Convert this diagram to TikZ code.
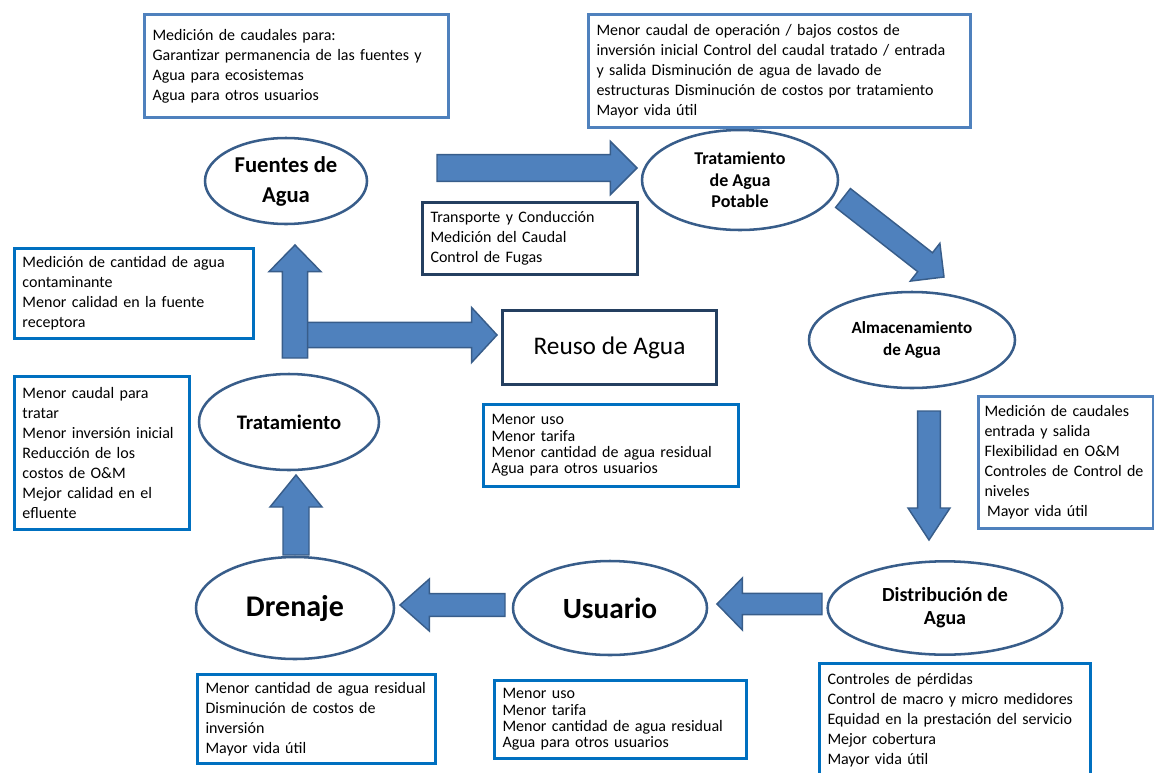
\documentclass[tikz,border=0pt]{standalone}
\usepackage{fontspec}
\setmainfont{Carlito}
\usepackage{tikz}
\usetikzlibrary{shapes,arrows,positioning,calc}

\definecolor{arrowfill}{HTML}{4F81BD}
\definecolor{arrowline}{HTML}{385D8A}
\definecolor{ellline}{HTML}{385D8A}
\definecolor{boxlight}{HTML}{4F81BD}
\definecolor{boxblue}{HTML}{0070C0}
\definecolor{boxdark}{HTML}{243F60}

\tikzset{
  stage/.style={ellipse, draw=ellline, line width=1.9pt, fill=white, inner sep=0pt, align=center},
  infobox/.style={draw=#1, line width=2.25pt, fill=white, anchor=north west, align=left,
    inner xsep=6pt, inner ysep=2pt, font=\fontsize{12}{15}\selectfont},
  bigarrow/.style={fill=arrowfill, draw=arrowline, line width=1.1pt, line join=miter}
}

% block arrow: tail, tip, half shaft, half head, head length
\newcommand\blockarrow[5]{%
  \draw[bigarrow] let \p1=($(#2)-(#1)$), \n1={atan2(\y1,\x1)}, \n2={veclen(\x1,\y1)-#5},
    \n3={\n1+90}, \n4={\n1-90}, \n5={#4-#3} in
    ($(#1)+(\n3:#3)$) -- ++(\n1:\n2) -- ++(\n3:\n5) -- (#2)
    -- ($(#1)+(\n1:\n2)+(\n4:#4)$) -- ++(\n3:\n5) -- ($(#1)+(\n4:#3)$) -- cycle;}

\begin{document}
\begin{tikzpicture}[x=0.75pt, y=-0.75pt]
\useasboundingbox (0,0) rectangle (1154,772);

% Etapas del ciclo
\node[stage, minimum width=121.5pt, minimum height=64.5pt, font=\bfseries\fontsize{17}{22.5}\selectfont] (fuentes) at (286,181) {Fuentes de\\Agua};
\node[stage, minimum width=147pt, minimum height=75pt, font=\bfseries\fontsize{13.5}{16}\selectfont] (potable) at (740,180) {Tratamiento\\de Agua\\Potable};
\node[stage, minimum width=154.5pt, minimum height=72pt, font=\bfseries\fontsize{12.8}{17}\selectfont] (almacen) at (912,340) {Almacenamiento\\de Agua};
\node[stage, minimum width=176pt, minimum height=70pt, font=\bfseries\fontsize{15}{17}\selectfont] (distrib) at (945,608) {Distribución de\\Agua};
\node[stage, minimum width=145.5pt, minimum height=70.5pt, font=\bfseries\fontsize{22}{24}\selectfont] (usuario) at (610,608) {Usuario};
\node[stage, minimum width=148.5pt, minimum height=76.5pt, font=\bfseries\fontsize{22.5}{24}\selectfont] (drenaje) at (295,608) {Drenaje};
\node[stage, minimum width=135pt, minimum height=72pt, font=\bfseries\fontsize{15.5}{18}\selectfont] (tratam) at (289,422) {Tratamiento};
\node[draw=boxdark, line width=2.25pt, minimum width=161pt, minimum height=55pt, font=\fontsize{19}{22}\selectfont] (reuso) at (609.5,347.5) {Reuso de Agua};

% Cuadros de texto
\node[infobox=boxlight, text width=216pt, minimum height=77pt] (medfuentes) at (143,13)
  {Medición de caudales para:\\ Garantizar permanencia de las fuentes y\\ Agua para ecosistemas\\ Agua para otros usuarios};
\node[infobox=boxlight, text width=274.5pt, minimum height=85pt] (medpotable) at (587,13)
  {Menor caudal de operación / bajos costos de\\ inversión inicial Control del caudal tratado / entrada\\ y salida Disminución de agua de lavado de\\ estructuras Disminución de costos por tratamiento\\ Mayor vida útil};
\node[infobox=boxdark, text width=149pt, minimum height=54pt] (medtransp) at (421,201)
  {Transporte y Conducción\\ Medición del Caudal\\ Control de Fugas};
\node[infobox=boxblue, text width=167pt, minimum height=67.5pt] (medverter) at (13,247)
  {Medición de cantidad de agua\\ contaminante\\ Menor calidad en la fuente\\ receptora};
\node[infobox=boxblue, text width=119pt, minimum height=115pt] (medtratam) at (13,375)
  {Menor caudal para\\ tratar\\ Menor inversión inicial\\ Reducción de los\\ costos de O\&M\\ Mejor calidad en el\\ efluente};
\node[infobox=boxblue, text width=179pt, minimum height=61.5pt, font=\fontsize{12}{12.2}\selectfont] (medreuso) at (482,403)
  {Menor uso\\ Menor tarifa\\ Menor cantidad de agua residual\\ Agua para otros usuarios};
\node[infobox=boxlight, text width=122pt, inner xsep=4.5pt, minimum height=99pt] (medalmacen) at (977,395)
  {Medición de caudales\\ entrada y salida\\ Flexibilidad en O\&M\\ Controles de Control de\\ niveles\\ \hspace{2pt}Mayor vida útil};
\node[infobox=boxblue, text width=191pt, minimum height=85pt] (meddistrib) at (818,662)
  {Controles de pérdidas\\ Control de macro y micro medidores\\ Equidad en la prestación del servicio\\ Mejor cobertura\\ Mayor vida útil};
\node[infobox=boxblue, text width=166.5pt, minimum height=67pt] (meddrenaje) at (196,673)
  {Menor cantidad de agua residual\\ Disminución de costos de\\ inversión\\ Mayor vida útil};
\node[infobox=boxblue, text width=177pt, minimum height=58.5pt, font=\fontsize{12}{12.2}\selectfont] (medusuario) at (493,679)
  {Menor uso\\ Menor tarifa\\ Menor cantidad de agua residual\\ Agua para otros usuarios};

% Flechas
\coordinate (c1a) at (437,168); \coordinate (c1b) at (637,168);
\blockarrow{c1a}{c1b}{10pt}{20pt}{20pt}
\coordinate (c2a) at (843,198); \coordinate (c2b) at (944,277);
\blockarrow{c2a}{c2b}{9pt}{18pt}{18pt}
\coordinate (c3a) at (929,411); \coordinate (c3b) at (929,540);
\blockarrow{c3a}{c3b}{8.6pt}{15.75pt}{24pt}
\coordinate (c4a) at (822,604); \coordinate (c4b) at (717,604);
\blockarrow{c4a}{c4b}{8pt}{19.5pt}{19pt}
\coordinate (c5a) at (505,605); \coordinate (c5b) at (400,605);
\blockarrow{c5a}{c5b}{8.5pt}{19.5pt}{22pt}
\coordinate (c6a) at (296,555); \coordinate (c6b) at (296,475);
\blockarrow{c6a}{c6b}{9.75pt}{19.5pt}{24pt}
\coordinate (c8a) at (300,335); \coordinate (c8b) at (497,335);
\blockarrow{c8a}{c8b}{9.4pt}{20.6pt}{19pt}
\coordinate (c7a) at (295,358); \coordinate (c7b) at (295,245);
\blockarrow{c7a}{c7b}{9.4pt}{19.5pt}{20pt}
\end{tikzpicture}
\end{document}
